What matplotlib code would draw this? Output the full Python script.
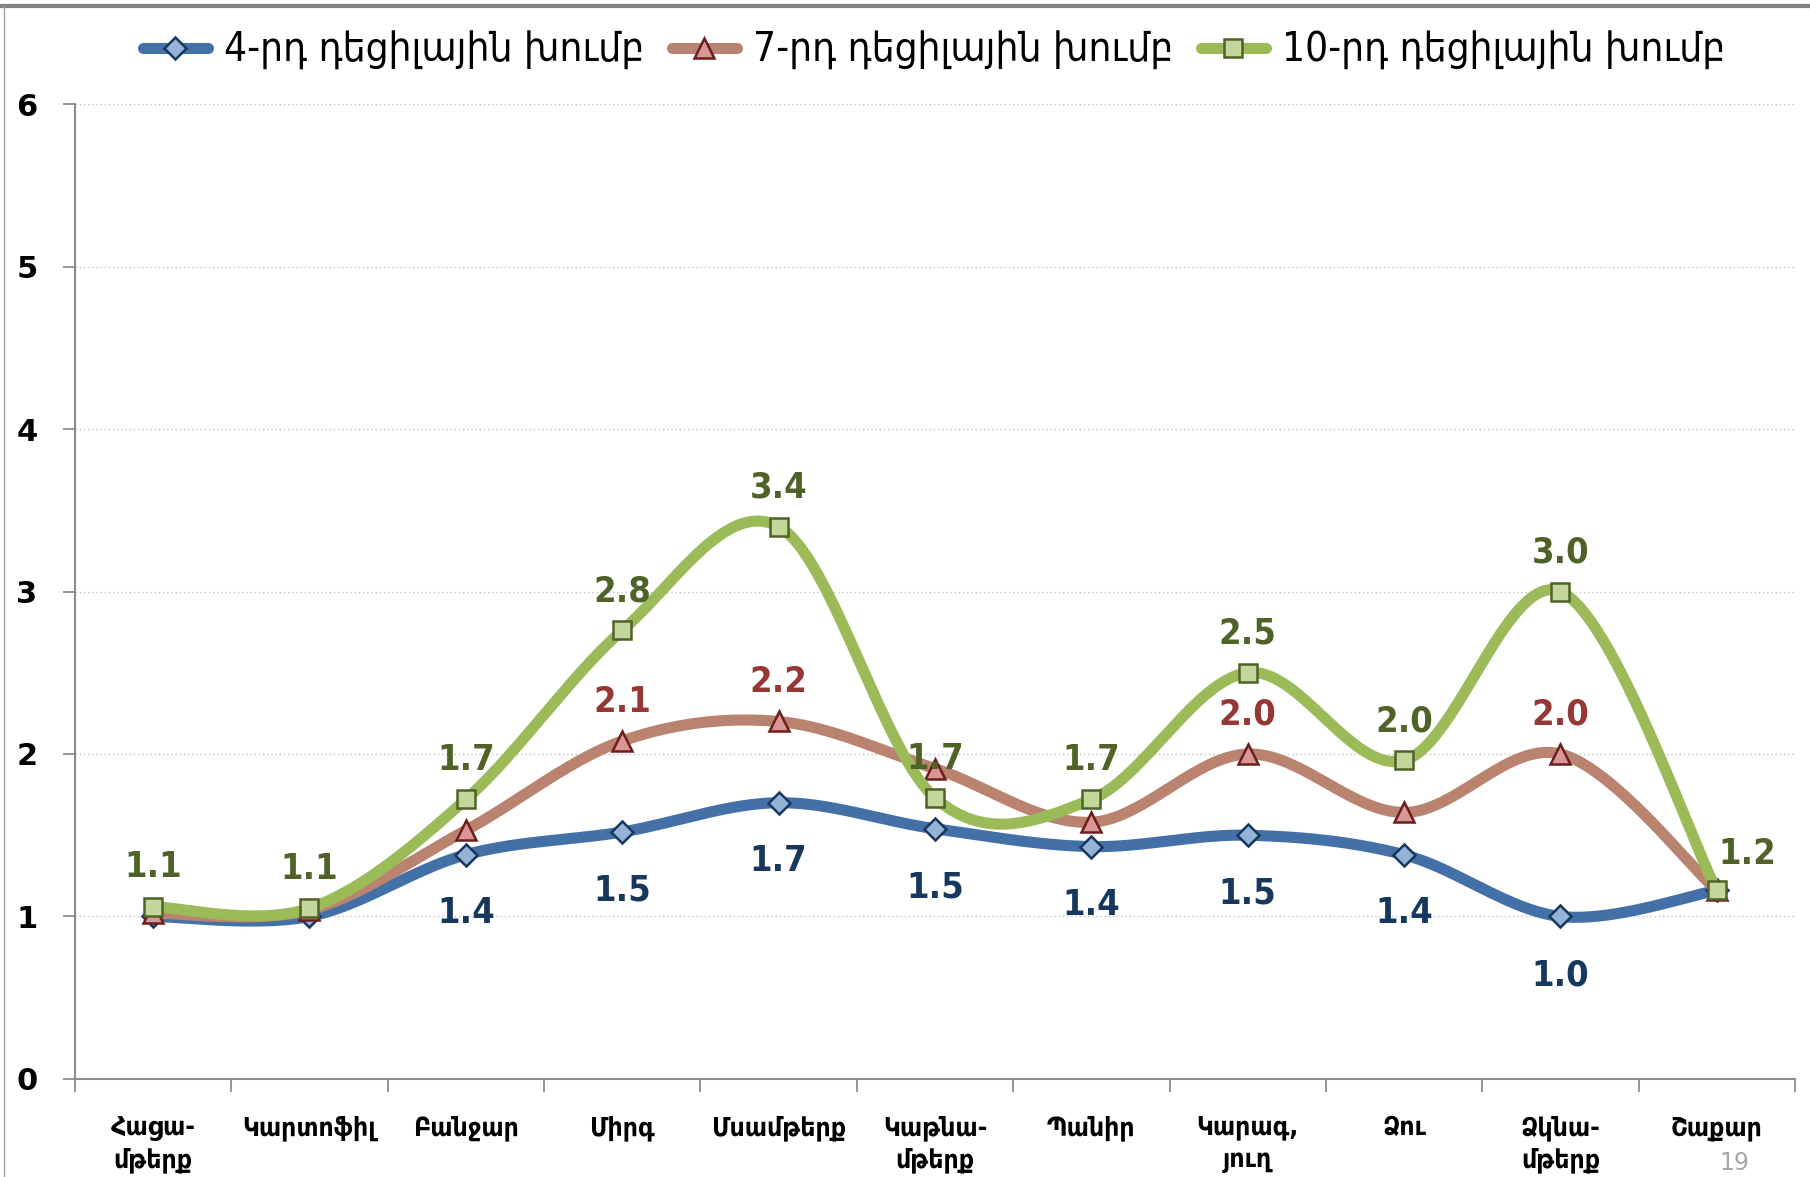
import numpy as np
import matplotlib
matplotlib.use("Agg")
import matplotlib.pyplot as plt
from matplotlib.lines import Line2D

plt.rcParams['font.family'] = ['DejaVu Sans']

# categories (Armenian)
categories = ["Հացա-\nմթերք", "Կարտոֆիլ", "Բանջար", "Միրգ", "Մսամթերք", "Կաթնա-\nմթերք",
              "Պանիր", "Կարագ,\nյուղ", "Ձու", "Ձկնա-\nմթերք", "Շաքար"]
series_names = ["4-րդ դեցիլային խումբ", "7-րդ դեցիլային խումբ", "10-րդ դեցիլային խումբ"]

dec4 = [1.0, 1.0, 1.38, 1.52, 1.70, 1.54, 1.43, 1.50, 1.38, 1.0, 1.16]
dec7 = [1.02, 1.04, 1.53, 2.08, 2.20, 1.91, 1.58, 2.00, 1.64, 2.00, 1.16]
dec10 = [1.06, 1.05, 1.72, 2.76, 3.40, 1.73, 1.72, 2.50, 1.96, 3.00, 1.16]

# which points carry a data label
lab4 = [2, 3, 4, 5, 6, 7, 8, 9]
lab7 = [3, 4, 7, 9]
lab10 = list(range(11))


def smooth(xs, ys, n=40):
    # Catmull-Rom style bezier smoothing (like office "smoothed line")
    p = np.column_stack([xs, ys]).astype(float)
    p = np.vstack([p[0], p, p[-1]])
    out = []
    t = np.linspace(0, 1, n)
    for i in range(1, len(p) - 2):
        p0, p1, p2, p3 = p[i - 1], p[i], p[i + 1], p[i + 2]
        c1 = p1 + (p2 - p0) / 6
        c2 = p2 - (p3 - p1) / 6
        seg = ((1 - t) ** 3)[:, None] * p1 + (3 * (1 - t) ** 2 * t)[:, None] * c1 \
            + (3 * (1 - t) * t ** 2)[:, None] * c2 + (t ** 3)[:, None] * p2
        out.append(seg)
    s = np.vstack(out)
    return s[:, 0], s[:, 1]


fig = plt.figure(figsize=(18.10, 11.77), dpi=100)
ax = fig.add_axes([0.0414, 0.0833, 0.9503, 0.8283])

x = np.arange(len(categories))
styles = [
    (dec4, "#4470A8", "D", "#95B3D7", "#17375E", 11),
    (dec7, "#B9836F", "^", "#D99694", "#6B1E1E", 14),
    (dec10, "#9BBB59", "s", "#C3D69B", "#4F6228", 13),
]
handles = []
for k, (vals, lc, mk, mf, me, ms) in enumerate(styles):
    sx, sy = smooth(x, vals)
    ax.plot(sx, sy, color=lc, lw=8, solid_capstyle='round', zorder=2 + k)
    ax.plot(x, vals, ls='none', marker=mk, markersize=ms, markerfacecolor=mf,
            markeredgecolor=me, markeredgewidth=1.8, zorder=2.5 + k)
    handles.append(Line2D([0], [0], color=lc, lw=8, marker=mk, markersize=ms,
                          markerfacecolor=mf, markeredgecolor=me, markeredgewidth=1.8,
                          solid_capstyle='round'))

lab_font = dict(fontsize=26, fontweight='bold', fontstretch='condensed', ha='center')
for i in lab4:
    ax.annotate(f"{dec4[i]:.1f}", (x[i], dec4[i]), xytext=(0, -30), textcoords='offset points',
                va='top', color="#17375E", zorder=10, **lab_font)
for i in lab7:
    ax.annotate(f"{dec7[i]:.1f}", (x[i], dec7[i]), xytext=(0, 16), textcoords='offset points',
                va='bottom', color="#953735", zorder=10, **lab_font)
for i in lab10:
    if i == len(x) - 1:
        ax.annotate(f"{dec10[i]:.1f}", (x[i], dec10[i]), xytext=(22, 14), textcoords='offset points',
                    va='bottom', color="#4F6228", zorder=10, **lab_font)
    else:
        ax.annotate(f"{dec10[i]:.1f}", (x[i], dec10[i]), xytext=(0, 16), textcoords='offset points',
                    va='bottom', color="#4F6228", zorder=10, **lab_font)

ax.set_xlim(-0.5, len(categories) - 0.5)
ax.set_ylim(0, 6)
ax.set_yticks(range(0, 7))
ax.set_yticklabels([str(v) for v in range(0, 7)], fontsize=22, fontweight='bold')
ax.set_xticks(x)
ax.set_xticklabels(categories, fontsize=19, fontweight='semibold', fontstretch='condensed',
                   linespacing=1.3)
ax.set_xticks(np.arange(-0.5, len(categories)), minor=True)
ax.tick_params(axis='x', which='major', length=0, pad=26)
ax.tick_params(axis='x', which='minor', length=9, color='#8C8C8C', width=1.3)
ax.tick_params(axis='y', length=9, color='#8C8C8C', width=1.3, pad=18)
for lbl in ax.get_xticklabels():
    lbl.set_va('top')

ax.grid(axis='y', ls=(0, (1, 2)), color='#BFBFBF', lw=1)
ax.set_axisbelow(True)
for side in ['top', 'right']:
    ax.spines[side].set_visible(False)
ax.spines['left'].set_color('#8C8C8C')
ax.spines['bottom'].set_color('#8C8C8C')
ax.spines['left'].set_linewidth(1.5)
ax.spines['bottom'].set_linewidth(1.5)

fig.legend(handles, series_names, loc='center', bbox_to_anchor=(0.516, 0.957), ncol=3,
           frameon=False, handlelength=1.6, columnspacing=0.7, handletextpad=0.4,
           prop=dict(size=29, stretch='condensed'))

# slide frame and page number
fig.add_artist(Line2D([0, 1], [0.995, 0.995], color='#808080', lw=3, transform=fig.transFigure))
fig.add_artist(Line2D([0.002, 0.002], [0, 0.995], color='#A0A0A0', lw=1, transform=fig.transFigure))
fig.text(0.958, 0.002, "19", fontsize=17, color='#A6A6A6', ha='center', va='bottom')

fig.savefig("out.png", dpi=100)
